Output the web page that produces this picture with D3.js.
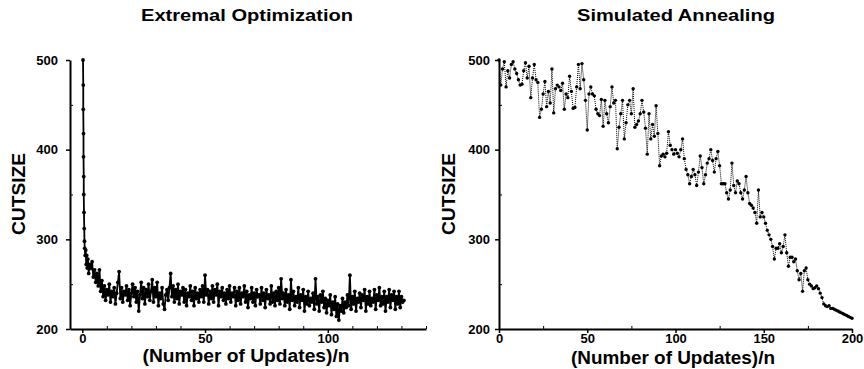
<!DOCTYPE html>
<html>
<head>
<meta charset="utf-8">
<script src="https://cdn.jsdelivr.net/npm/d3@7"></script>
<style>
  body { margin: 0; background: #fff; }
  svg { display: block; font-family: "Liberation Sans", Arial, sans-serif; }
</style>
</head>
<body>
<svg id="chart" width="864" height="369"></svg>
<script>
// tick values
const yTicks = [200, 300, 400, 500];
const yMinor = [250, 350, 450];
const eoTicks = [0, 50, 100];
const eoMinor = [10, 20, 30, 40, 60, 70, 80, 90, 110, 120, 130, 140];
const saTicks = [0, 50, 100, 150, 200];
const saMinor = [25, 75, 125, 175];

// Extremal Optimization: steep start, read point by point
const eoHeadX = [0.3, 0.4, 0.4, 0.5, 0.5, 0.6, 0.6, 0.7, 0.8, 0.9, 1.0, 1.2, 1.4, 1.6, 1.8, 2.0, 2.3, 2.6, 3.0];
const eoHeadY = [500, 472, 445, 418, 392, 370, 350, 330, 312, 298, 290, 282, 288, 272, 282, 268, 278, 262, 272];

// Extremal Optimization: the rest, one value per half unit from x = 3.5
const eoBodyStart = 3.5;
const eoBodyStep = 0.5;
const eoBody = [
  268, 275, 258, 266, 252, 262, 248, 266, 242, 254,
  236, 248, 232, 244, 238, 250, 230, 242, 236, 246,
  228, 240, 252, 264, 234, 246, 230, 242, 238, 248,
  232, 244, 226, 240, 250, 236, 246, 230, 242, 220,
  238, 252, 234, 246, 228, 244, 236, 250, 232, 242,
  255, 230, 246, 236, 252, 226, 240, 234, 246, 228,
  222, 238, 244, 232, 246, 262, 236, 248, 230, 244,
  234, 250, 228, 242, 238, 246, 230, 244, 226, 240,
  236, 248, 232, 242, 226, 246, 234, 240, 230, 244,
  236, 248, 230, 260, 238, 244, 228, 242, 234, 248,
  230, 244, 238, 250, 226, 242, 236, 246, 232, 240,
  228, 244, 234, 248, 230, 240, 236, 246, 226, 242,
  232, 246, 228, 240, 236, 248, 230, 242, 224, 238,
  234, 246, 230, 240, 226, 244, 236, 238, 228, 246,
  232, 240, 224, 244, 234, 238, 228, 248, 230, 240,
  226, 242, 232, 246, 228, 256, 234, 240, 226, 244,
  230, 238, 222, 255, 232, 242, 226, 236, 230, 246,
  224, 238, 232, 244, 220, 236, 228, 242, 226, 234,
  230, 240, 222, 256, 228, 236, 220, 238, 230, 242,
  224, 234, 218, 232, 226, 238, 216, 230, 222, 236,
  214, 228, 210, 226, 220, 234, 218, 230, 224, 238,
  226, 260, 222, 236, 228, 242, 220, 234, 230, 240,
  224, 238, 232, 244, 220, 236, 228, 242, 226, 234,
  230, 244, 222, 238, 232, 246, 226, 236, 228, 242,
  220, 236, 230, 244, 224, 238, 232, 242, 222, 236,
  228, 242, 224, 236, 230, 232
];

// Simulated Annealing: one value per unit, x = 0..200
const saY = [
  500, 472, 490, 498, 470, 488, 480, 495, 498, 490,
  485, 478, 472, 473, 488, 497, 480, 493, 458, 480,
  495, 478, 475, 436, 445, 462, 476, 448, 465, 452,
  490, 441, 468, 472, 470, 466, 474, 445, 462, 458,
  482, 465, 446, 447, 470, 495, 468, 496, 478, 455,
  422, 462, 470, 462, 460, 445, 440, 438, 456, 426,
  455, 440, 430, 448, 470, 452, 455, 401, 425, 440,
  455, 412, 430, 450, 455, 440, 468, 425, 428, 432,
  440, 455, 442, 424, 395, 440, 412, 428, 415, 449,
  418, 382, 393, 395, 392, 396, 420, 405, 400, 395,
  400, 396, 392, 400, 412, 390, 378, 372, 362, 370,
  378, 372, 360, 375, 393, 380, 362, 372, 385, 390,
  400, 388, 375, 390, 398, 382, 362, 362, 362, 352,
  345, 355, 385, 360, 352, 365, 362, 352, 345, 355,
  370, 352, 340, 338, 335, 330, 318, 355, 325, 330,
  325, 318, 310, 305, 300, 292, 278, 290, 290, 295,
  285, 292, 305, 285, 270, 280, 280, 275, 278, 265,
  255, 262, 242, 265, 268, 255, 250, 248, 245, 246,
  248, 245, 240, 235, 228, 226, 225, 226, 223, 223,
  222, 221, 220, 219, 218, 217, 216, 215, 214, 213, 212
];

const svg = d3.select('#chart');

function drawPanel(p) {
  const x = d3.scaleLinear().domain(p.xDomain).range(p.xRange);
  const y = d3.scaleLinear().domain([200, 500]).range([329, 60]);
  const g = svg.append('g');

  // minor ticks, pointing inward
  g.append('g')
    .attr('transform', `translate(0,${y(200)})`)
    .call(d3.axisBottom(x).tickValues(p.xMinor).tickSize(-3).tickFormat(''))
    .call(s => s.select('.domain').remove());
  g.append('g')
    .attr('transform', `translate(${p.xRange[0]},0)`)
    .call(d3.axisLeft(y).tickValues(yMinor).tickSize(-3).tickFormat(''))
    .call(s => s.select('.domain').remove());

  const xAxis = g.append('g')
    .attr('transform', `translate(0,${y(200)})`)
    .call(d3.axisBottom(x).tickValues(p.xTicks).tickSize(4).tickSizeOuter(0).tickPadding(1));
  const yAxis = g.append('g')
    .attr('transform', `translate(${p.xRange[0]},0)`)
    .call(d3.axisLeft(y).tickValues(yTicks).tickSize(4).tickSizeOuter(0).tickPadding(p.yPad));

  [xAxis, yAxis].forEach(a => {
    a.attr('font-family', null).attr('font-size', null);
    a.select('.domain').attr('stroke', '#000').attr('stroke-width', 2);
    a.selectAll('.tick line').attr('stroke', '#000').attr('stroke-width', 1.5);
    a.selectAll('.tick text')
      .attr('fill', '#000')
      .attr('font-size', 13)
      .attr('font-weight', 'bold');
  });
  g.selectAll('.tick line').attr('stroke', '#000');

  // data
  const line = d3.line().x(d => x(d[0])).y(d => y(d[1]));
  g.append('path')
    .datum(p.points)
    .attr('d', line)
    .attr('fill', 'none')
    .attr('stroke', '#000')
    .attr('stroke-width', p.lineWidth)
    .attr('stroke-dasharray', p.dash);
  g.append('g')
    .selectAll('circle')
    .data(p.points)
    .enter()
    .append('circle')
    .attr('cx', d => x(d[0]))
    .attr('cy', d => y(d[1]))
    .attr('r', p.r)
    .attr('fill', '#000');

  // titles
  g.append('text')
    .attr('x', p.titleX).attr('y', 21)
    .attr('text-anchor', 'middle')
    .attr('font-size', 17).attr('font-weight', 'bold')
    .attr('textLength', p.titleLen).attr('lengthAdjust', 'spacingAndGlyphs')
    .text(p.title);
  g.append('text')
    .attr('x', p.xLabelX).attr('y', p.xLabelY)
    .attr('text-anchor', 'middle')
    .attr('font-size', 18).attr('font-weight', 'bold')
    .attr('textLength', p.xLabelLen).attr('lengthAdjust', 'spacingAndGlyphs')
    .text('(Number of Updates)/n');
  g.append('text')
    .attr('transform', `translate(${p.yLabelX},194) rotate(-90)`)
    .attr('text-anchor', 'middle')
    .attr('font-size', 19).attr('font-weight', 'bold')
    .attr('textLength', 82).attr('lengthAdjust', 'spacingAndGlyphs')
    .text('CUTSIZE');
}

const eoPoints = eoHeadX.map((v, i) => [v, eoHeadY[i]])
  .concat(eoBody.map((v, i) => [eoBodyStart + i * eoBodyStep, v]));
const saPoints = saY.map((v, i) => [i, v]);

drawPanel({
  xDomain: [-5, 140], xRange: [70, 426],
  xTicks: eoTicks, xMinor: eoMinor, yPad: 8,
  points: eoPoints, r: 1.9, lineWidth: 1.8, dash: null,
  title: 'Extremal Optimization', titleX: 247, titleLen: 212,
  xLabelX: 246, xLabelY: 362, xLabelLen: 207, yLabelX: 25
});

drawPanel({
  xDomain: [0, 200], xRange: [499, 852],
  xTicks: saTicks, xMinor: saMinor, yPad: 5,
  points: saPoints, r: 1.7, lineWidth: 1, dash: '1,1',
  title: 'Simulated Annealing', titleX: 676, titleLen: 198,
  xLabelX: 673, xLabelY: 364, xLabelLen: 204, yLabelX: 455
});
</script>
</body>
</html>
